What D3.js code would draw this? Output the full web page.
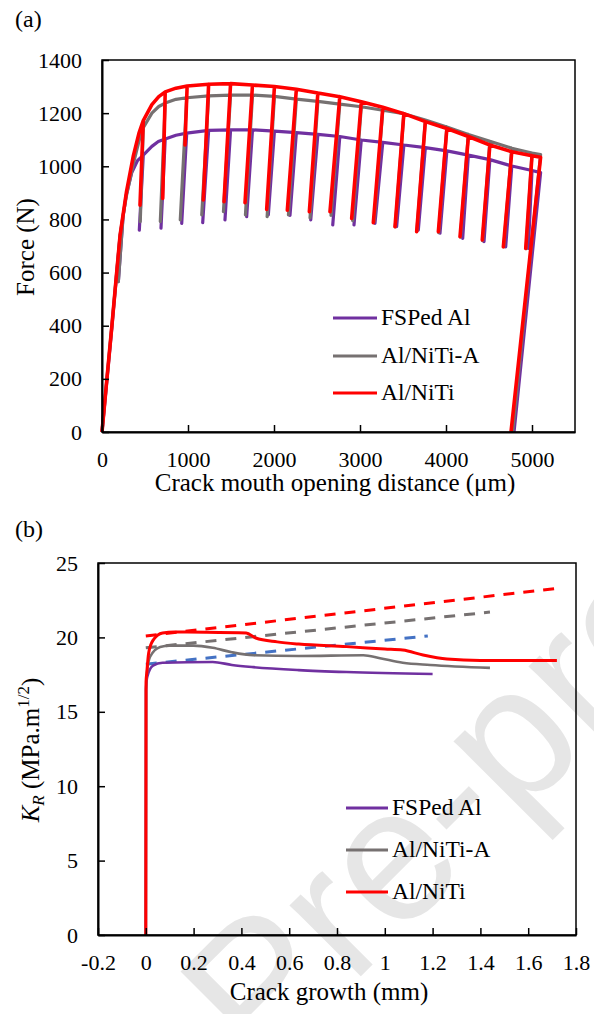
<!DOCTYPE html>
<html>
<head>
<meta charset="utf-8">
<script src="https://cdn.jsdelivr.net/npm/d3@7"></script>
<style>
  body { margin: 0; background: #fff; }
  svg text { font-family: "Liberation Serif", "DejaVu Serif", "Noto Serif", "Times New Roman", Times, serif; fill: #000; }
</style>
</head>
<body>
<div id="chart"></div>
<script>
// ---- data, panel (a): force vs crack mouth opening distance, [cmod (um), force (N)] in drawing order
const fspedAlForce = [
  [0,0],[60,205],[115,395],[165,575],[210,735],[245,810],[190,566],[245,810],[280,890],[345,975],[410,1020],
  [480,1042],[434,760],[480,1042],[580,1075],[655,1093],
  [735,1103],[686,767],[735,1103],[860,1117],
  [985,1125],[927,785],[985,1125],
  [1240,1135],[1171,788],[1240,1135],
  [1495,1137],[1430,798],[1495,1137],
  [1750,1137],[1682,810],[1750,1137],
  [2005,1132],[1934,817],[2005,1132],
  [2260,1127],[2186,815],[2260,1127],
  [2510,1120],[2427,798],[2510,1120],
  [2765,1112],[2683,779],[2765,1112],
  [3015,1099],[2930,779],[3015,1099],
  [3265,1090],[3174,785],[3265,1090],
  [3510,1080],[3426,773],[3510,1080],
  [3760,1070],[3678,760],[3760,1070],
  [4010,1058],[3930,748],[4010,1058],
  [4260,1042],[4194,729],[4260,1042],
  [4510,1025],[4442,716],[4510,1025],
  [4765,1001],[4694,697],[4765,1001],
  [5000,984],[4957,691],[5000,984],
  [5100,976],[4791,0]
];
const alNiTiAForce = [
  [0,0],[60,210],[115,400],[165,580],[210,740],[245,815],[190,566],[245,815],[285,890],[365,1010],[430,1095],
  [480,1145],[445,792],[480,1145],[580,1200],[660,1225],
  [735,1238],[678,792],[735,1238],[860,1252],
  [985,1258],[910,798],[985,1258],
  [1240,1265],[1160,817],[1240,1265],
  [1495,1268],[1412,829],[1495,1268],
  [1750,1268],[1668,817],[1750,1268],
  [2005,1263],[1920,810],[2005,1263],
  [2260,1253],[2168,817],[2260,1253],
  [2510,1244],[2419,806],[2510,1244],
  [2765,1234],[2663,815],[2765,1234],
  [3015,1224],[2915,795],[3015,1224],
  [3265,1211],[3165,792],[3265,1211],
  [3510,1198],[3410,772],[3510,1198],
  [3760,1174],[3662,758],[3760,1174],
  [4010,1148],[3915,750],[4010,1148],
  [4260,1120],[4168,733],[4260,1120],
  [4510,1094],[4425,720],[4510,1094],
  [4765,1068],[4672,697],[4765,1068],
  [5000,1050],[4932,690],[5000,1050],
  [5100,1044],[4775,0]
];
const alNiTiForce = [
  [0,0],[60,210],[115,400],[165,580],[210,740],[285,905],[365,1040],[430,1125],
  [480,1172],[442,854],[480,1172],[580,1232],[660,1262],
  [735,1280],[706,879],[735,1280],[860,1294],
  [990,1302],[965,1080],[990,1302],
  [1240,1309],[1178,873],[1240,1309],
  [1495,1311],[1419,867],[1495,1311],
  [1750,1306],[1663,863],[1750,1306],
  [2005,1300],[1915,838],[2005,1300],
  [2260,1290],[2155,835],[2260,1290],
  [2510,1276],[2411,829],[2510,1276],
  [2765,1262],[2651,829],[2765,1262],
  [3015,1243],[2903,804],[3015,1243],
  [3265,1222],[3155,788],[3265,1222],
  [3510,1198],[3407,773],[3510,1198],
  [3760,1168],[3659,754],[3760,1168],
  [4010,1142],[3911,754],[4010,1142],
  [4260,1112],[4163,735],[4260,1112],
  [4510,1080],[4422,723],[4510,1080],
  [4765,1055],[4667,697],[4765,1055],
  [5000,1040],[4927,691],[5000,1040],
  [5100,1034],[4756,0]
];

// ---- data, panel (b): K_R vs crack growth, [growth (mm), K_R (MPa.m^1/2)]
const fspedAlKr = [
  [0,0],[0.001,16.5],[0.006,17.35],[0.03,18.1],[0.07,18.3],[0.28,18.35],[0.36,18.15],
  [0.45,18.0],[0.64,17.8],[0.84,17.67],[1.2,17.54]
];
const alNiTiAKr = [
  [0,0],[0.001,16.5],[0.006,17.8],[0.018,18.7],[0.06,19.35],[0.1,19.45],[0.2,19.45],[0.28,19.3],
  [0.36,19.0],[0.45,18.8],[0.64,18.75],[0.91,18.8],[0.98,18.6],[1.075,18.3],[1.19,18.15],[1.44,17.95]
];
const alNiTiKr = [
  [0,0],[0.001,17],[0.004,17.6],[0.012,18.95],[0.03,19.8],[0.07,20.3],[0.12,20.36],[0.25,20.35],
  [0.42,20.3],[0.46,19.96],[0.55,19.7],[0.64,19.55],[0.84,19.38],[1.0,19.22],[1.075,19.15],
  [1.16,18.82],[1.26,18.55],[1.4,18.45],[1.72,18.45]
];
// dashed fit lines
const fspedAlFit = [[0,18.2],[1.18,20.1]];
const alNiTiAFit = [[0,19.3],[1.44,21.7]];
const alNiTiFit = [[0,20.1],[1.74,23.33]];

const seriesNames = ["FSPed Al", "Al/NiTi-A", "Al/NiTi"];
const cmodTicks = [0,1000,2000,3000,4000,5000];
const forceTicks = [0,200,400,600,800,1000,1200,1400];
const growthTicks = [-0.2,0,0.2,0.4,0.6,0.8,1,1.2,1.4,1.6,1.8];
const krTicks = [0,5,10,15,20,25];

const colors = ["#7030A0", "#767171", "#FF0000"];
const fitBlue = "#4472C4";
const serif = "'Liberation Serif', 'DejaVu Serif', 'Noto Serif', 'Times New Roman', Times, serif";

const svg = d3.select("#chart").append("svg")
  .attr("width", 594).attr("height", 1014)
  .style("font-family", serif);

// watermark (behind everything)
const wm = svg.append("g")
  .attr("transform", "translate(262,1075) rotate(-45)")
  .style("font-size", "190px");
wm.append("text").attr("x", 0)
  .style("fill", "#e6e6e6").style("font-family", "'Liberation Sans', Arial, sans-serif")
  .text("Pre-proof");
wm.append("text").attr("x", -50).attr("text-anchor", "end")
  .style("fill", "#e6e6e6").style("font-family", "'Liberation Sans', Arial, sans-serif")
  .text("Journal");

function frame(x, y) {
  const [x0, x1] = x.range(), [y0, y1] = y.range();
  svg.append("rect")
    .attr("x", x0).attr("y", y1).attr("width", x1 - x0).attr("height", y0 - y1)
    .attr("fill", "none").attr("stroke", "#000").attr("stroke-width", 1.5);
}

function axes(x, y, xTicks, yTicks, xFmt) {
  const [x0] = x.range(), [y0] = y.range();
  const gx = svg.append("g")
    .attr("transform", `translate(0,${y0})`)
    .call(d3.axisBottom(x).tickValues(xTicks).tickFormat(xFmt)
      .tickSizeInner(-7).tickSizeOuter(0).tickPadding(19));
  const gy = svg.append("g")
    .attr("transform", `translate(${x0},0)`)
    .call(d3.axisLeft(y).tickValues(yTicks).tickFormat(d => String(d))
      .tickSizeInner(-7).tickSizeOuter(0).tickPadding(20));
  [gx, gy].forEach(g => {
    g.attr("font-family", null);
    g.select(".domain").attr("stroke-width", 2);
    g.selectAll(".tick line").attr("stroke-width", 1.5);
    g.selectAll(".tick text")
      .style("font-family", serif)
      .style("font-size", "22px");
  });
}

function legend(x0, x1, ys, lw) {
  seriesNames.forEach((name, i) => {
    svg.append("line")
      .attr("x1", x0).attr("x2", x1).attr("y1", ys[i]).attr("y2", ys[i])
      .attr("stroke", colors[i]).attr("stroke-width", lw);
    svg.append("text")
      .attr("x", x1 + 4).attr("y", ys[i] + 7)
      .style("font-size", "23.5px")
      .text(name);
  });
}

// ---------------- panel (a) ----------------
const xA = d3.scaleLinear().domain([0, 5500]).range([102, 575]);
const yA = d3.scaleLinear().domain([0, 1400]).range([432, 60]);

const lineA = d3.line().x(d => xA(d[0])).y(d => yA(d[1]));
[fspedAlForce, alNiTiAForce, alNiTiForce].forEach((s, i) => {
  svg.append("path")
    .datum(s)
    .attr("d", lineA)
    .attr("fill", "none")
    .attr("stroke", colors[i])
    .attr("stroke-width", i === 2 ? 3.6 : 3.2)
    .attr("stroke-linejoin", "round");
});

frame(xA, yA);
axes(xA, yA, cmodTicks, forceTicks, d => String(d));
legend(333, 377, [318, 356, 393], 3);

svg.append("text").attr("x", 15).attr("y", 27).style("font-size", "24px").text("(a)");
svg.append("text")
  .attr("x", 335).attr("y", 491)
  .attr("text-anchor", "middle")
  .style("font-size", "25px")
  .text("Crack mouth opening distance (\u03bcm)");
svg.append("text")
  .attr("transform", "translate(34,247) rotate(-90)")
  .attr("text-anchor", "middle")
  .style("font-size", "25px")
  .text("Force (N)");

// ---------------- panel (b) ----------------
const xB = d3.scaleLinear().domain([-0.2, 1.8]).range([98, 576]);
const yB = d3.scaleLinear().domain([0, 25]).range([935, 563]);

const lineB = d3.line().x(d => xB(d[0])).y(d => yB(d[1])).curve(d3.curveMonotoneX);
const fitLine = d3.line().x(d => xB(d[0])).y(d => yB(d[1]));

[fspedAlFit, alNiTiAFit, alNiTiFit].forEach((s, i) => {
  svg.append("path")
    .datum(s)
    .attr("d", fitLine)
    .attr("fill", "none")
    .attr("stroke", i === 0 ? fitBlue : colors[i])
    .attr("stroke-width", 3)
    .attr("stroke-dasharray", "11,9");
});

[fspedAlKr, alNiTiAKr, alNiTiKr].forEach((s, i) => {
  svg.append("path")
    .datum(s)
    .attr("d", lineB)
    .attr("fill", "none")
    .attr("stroke", colors[i])
    .attr("stroke-width", i === 2 ? 3 : 2.6);
});

frame(xB, yB);
axes(xB, yB, growthTicks, krTicks, d => String(Math.round(d * 10) / 10));
legend(346, 388, [808, 850, 892], 3);

svg.append("text").attr("x", 15).attr("y", 537).style("font-size", "24px").text("(b)");
svg.append("text")
  .attr("x", 329).attr("y", 1000)
  .attr("text-anchor", "middle")
  .style("font-size", "25px")
  .text("Crack growth (mm)");

const kLabel = svg.append("text")
  .attr("transform", "translate(39,750) rotate(-90)")
  .attr("text-anchor", "middle")
  .style("font-size", "25px");
kLabel.append("tspan").style("font-style", "italic").text("K");
kLabel.append("tspan").style("font-style", "italic").style("font-size", "17px").attr("dy", 5).text("R");
kLabel.append("tspan").attr("dy", -5).text(" (MPa.m");
kLabel.append("tspan").style("font-size", "17px").attr("dy", -10).text("1/2");
kLabel.append("tspan").attr("dy", 10).text(")");
</script>
</body>
</html>
